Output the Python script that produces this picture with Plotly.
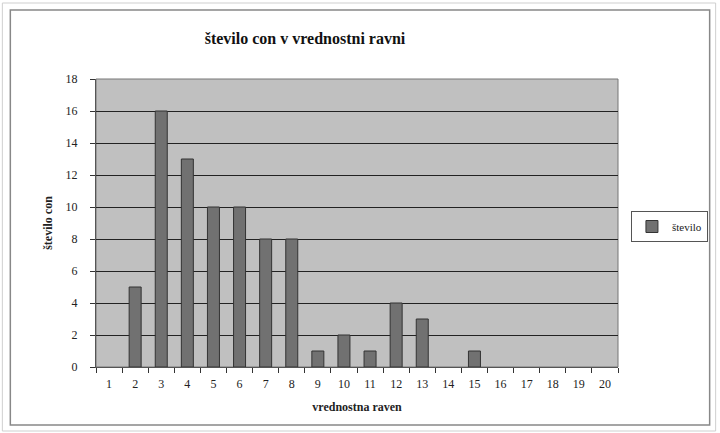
import plotly.graph_objects as go

categories = [str(i) for i in range(1, 21)]
values = [0, 5, 16, 13, 10, 10, 8, 8, 1, 2, 1, 4, 3, 0, 1, 0, 0, 0, 0, 0]
y_ticks = list(range(0, 19, 2))

W, H = 720, 433
L, R, T, B = 96, 100, 79, 66
pw, ph = W - L - R, H - T - B
SERIF = "Liberation Serif"

def px(x):
    return (x - L) / pw

def py(y):
    return (H - B - y) / ph

fig = go.Figure()
fig.add_trace(go.Bar(
    x=categories, y=[v if v else None for v in values], name="število",
    marker=dict(color="#717171", line=dict(color="#333333", width=1)),
    width=0.46, showlegend=True,
))

fig.update_layout(
    width=W, height=H,
    margin=dict(l=L, r=R, t=T, b=B),
    paper_bgcolor="white",
    plot_bgcolor="#c0c0c0",
    font=dict(family=SERIF, size=12, color="#222"),
    title=dict(text="<b>število con v vrednostni ravni</b>", xref="container", x=305 / W,
               xanchor="center", y=1 - 38 / H, yanchor="middle",
               font=dict(size=16, family=SERIF, color="#111")),
    showlegend=True,
    legend=dict(x=px(633), y=py(211), xanchor="left", yanchor="top",
                bordercolor="#555", borderwidth=1, bgcolor="white",
                font=dict(size=11, family=SERIF, color="#222"), itemwidth=30,
                tracegroupgap=0),
    bargap=0.5,
)
fig.update_xaxes(
    type="category", tickson="boundaries", ticks="outside", ticklen=5, tickcolor="#333",
    tickfont=dict(color="#222", size=12, family=SERIF), ticklabelstandoff=6,
    showline=True, linecolor="#555", linewidth=1, showgrid=False,
    title=dict(text="<b>vrednostna raven</b>", font=dict(size=12, family=SERIF), standoff=12),
    range=[-0.5, 19.5], mirror=False,
)
fig.update_yaxes(
    range=[0, 18], tickvals=y_ticks, ticks="outside", ticklen=5, tickcolor="#333",
    tickfont=dict(color="#222", size=12, family=SERIF), ticklabelstandoff=10,
    showgrid=True, gridcolor="#222", gridwidth=1, zeroline=False,
    showline=True, linecolor="#555", linewidth=1,
    title=dict(text="<b>število con</b>", font=dict(size=12, family=SERIF), standoff=10),
)

fig.add_shape(type="rect", xref="paper", yref="paper", x0=0, y0=0, x1=1, y1=1,
              line=dict(color="#777", width=1), layer="below")
fig.add_shape(type="rect", xref="paper", yref="paper",
              x0=px(10), x1=px(712), y0=py(425), y1=py(10),
              line=dict(color="#888", width=1.5))
fig.add_shape(type="rect", xref="paper", yref="paper",
              x0=px(2), x1=px(718), y0=py(431), y1=py(3),
              line=dict(color="#cfcfcf", width=1))

fig.write_html("out.html", config={"displayModeBar": False},
               post_script="document.body.style.margin='0';document.body.style.overflow='hidden';")
